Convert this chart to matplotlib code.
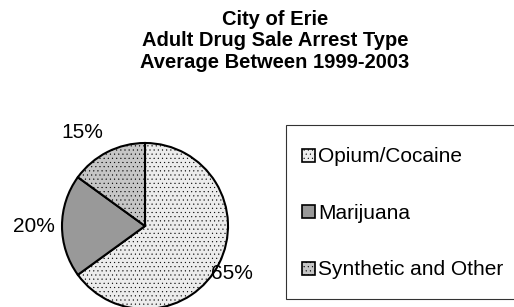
import matplotlib
matplotlib.use("Agg")
import matplotlib.pyplot as plt
from matplotlib.legend_handler import HandlerPatch
from matplotlib.patches import Rectangle

plt.rcParams['font.family'] = ['Liberation Sans', 'DejaVu Sans']
plt.rcParams['hatch.color'] = '#c0c0c0'
plt.rcParams['hatch.linewidth'] = 0.3

# data
categories = ["Opium/Cocaine", "Marijuana", "Synthetic and Other"]
shares = [65, 20, 15]
colors = ["#ececec", "#999999", "#c6c6c6"]
hatches = ["....", None, "...."]
title_lines = ["City of Erie", "Adult Drug Sale Arrest Type", "Average Between 1999-2003"]

W, H = 514, 307
fig = plt.figure(figsize=(W / 100, H / 100), dpi=100)

# pie axes: centre (145, 226) px, radius 83 px
cx, cy, r = 145, 226, 83
ax = fig.add_axes([(cx - r) / W, (H - cy - r) / H, 2 * r / W, 2 * r / H])
wedges, texts, autotexts = ax.pie(
    shares, colors=colors, startangle=90, counterclock=False,
    autopct="%d%%", pctdistance=1.28,
    wedgeprops=dict(edgecolor="black", linewidth=1.5),
    textprops=dict(fontsize=15),
)
for w, h in zip(wedges, hatches):
    if h:
        w.set_hatch(h)
# nudge labels the way the original places them
autotexts[0].set_position((1.05, -0.57))
autotexts[1].set_position((-1.34, 0.0))
autotexts[2].set_position((-0.76, 1.13))
ax.set_xlim(-1, 1)
ax.set_ylim(-1, 1)
ax.set_aspect("equal")
ax.axis("off")


def small_square(legend, orig_handle, xdescent, ydescent, width, height, fontsize):
    s = width
    return Rectangle((-xdescent, -ydescent + (height - s) / 2), width, s)


fs = 15
px = fs * 100 / 72
leg = fig.legend(
    wedges, categories, loc="upper left",
    bbox_to_anchor=(286 / W, 1 - 125 / H), borderaxespad=0,
    fontsize=fs, frameon=True, fancybox=False, edgecolor="black",
    borderpad=16 / px, handleheight=36 / px, handlelength=13 / px,
    labelspacing=28 / px, handletextpad=3 / px,
    handler_map={w: HandlerPatch(patch_func=small_square) for w in wedges},
)
leg.get_frame().set_linewidth(0.8)
for h in leg.legend_handles:
    h.set_edgecolor("black")
    h.set_linewidth(1.2)

fig.text(275 / W, 1 - 10 / H, "\n".join(title_lines), ha="center", va="top",
         fontsize=14.5, fontweight="bold", linespacing=1.16)

fig.savefig("out.png", dpi=100)
